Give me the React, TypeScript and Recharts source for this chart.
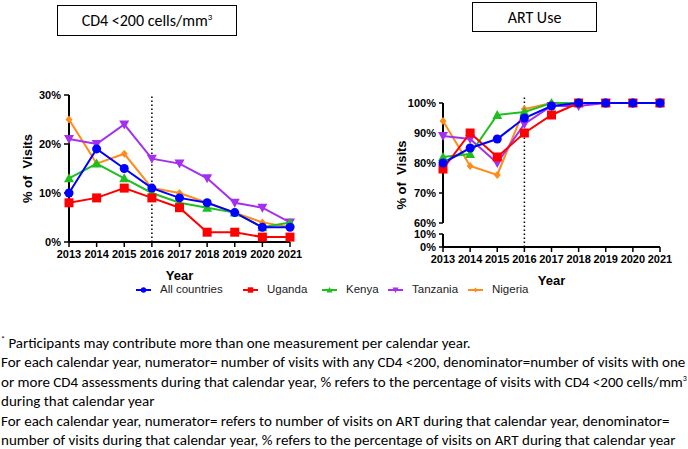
import React from "react";
import { LineChart, Line, XAxis, YAxis, ReferenceLine, Label } from "recharts";

const YEARS = [2013, 2014, 2015, 2016, 2017, 2018, 2019, 2020, 2021];

// CD4 <200 cells/mm3, % of visits
const CD4_ALL = [10, 19, 15, 11, 9, 8, 6, 3, 3];
const CD4_UGANDA = [8, 9, 11, 9, 7, 2, 2, 1, 1];
const CD4_KENYA = [13, 16, 13, 10, 8, 7, 6, 3, 4];
const CD4_TANZANIA = [21, 20, 24, 17, 16, 13, 8, 7, 4];
const CD4_NIGERIA = [25, 16, 18, 11, 10, 8, 6, 4, 3];

// ART use, % of visits
const ART_ALL = [80, 85, 88, 95, 99, 100, 100, 100, 100];
const ART_UGANDA = [78, 90, 82, 90, 96, 100, 100, 100, 100];
const ART_KENYA = [82, 83, 96, 97, 100, 100, 100, 100, 100];
const ART_TANZANIA = [89, 88, 80, 93, 99, 99, 100, 100, 100];
const ART_NIGERIA = [94, 79, 76, 98, 100, 100, 100, 100, 100];

const CD4_TICKS = [0, 10, 20, 30];
const ART_TICKS_TOP = [60, 70, 80, 90, 100];
const ART_TICKS_LOW = [0, 10];

type Shape = "circle" | "square" | "up" | "down" | "diamond";

const SERIES: { key: string; name: string; color: string; shape: Shape }[] = [
  { key: "all", name: "All countries", color: "#0000ff", shape: "circle" },
  { key: "uganda", name: "Uganda", color: "#ff0000", shape: "square" },
  { key: "kenya", name: "Kenya", color: "#1fbf1f", shape: "up" },
  { key: "tanzania", name: "Tanzania", color: "#a52ff0", shape: "down" },
  { key: "nigeria", name: "Nigeria", color: "#ff8c1a", shape: "diamond" },
];

const cd4Data = YEARS.map((year, i) => ({
  year,
  all: CD4_ALL[i],
  uganda: CD4_UGANDA[i],
  kenya: CD4_KENYA[i],
  tanzania: CD4_TANZANIA[i],
  nigeria: CD4_NIGERIA[i],
}));

const artData = YEARS.map((year, i) => ({
  year,
  all: ART_ALL[i],
  uganda: ART_UGANDA[i],
  kenya: ART_KENYA[i],
  tanzania: ART_TANZANIA[i],
  nigeria: ART_NIGERIA[i],
}));

const AXIS_FONT = "'Liberation Sans', Arial, sans-serif";
const NOTE_FONT = "Carlito, Lato, sans-serif";

const tickStyle = { fontSize: 11, fontWeight: 700, fill: "#000", fontFamily: AXIS_FONT };
const axisLine = { stroke: "#000", strokeWidth: 2 };
const tickLine = { stroke: "#000", strokeWidth: 1.5 };

// legend item left edges (icon), matched to the reference layout
const LEGEND_LEFT = [136, 243, 322, 388, 468];

function marker(shape: Shape, color: string, cx: number, cy: number, s = 1) {
  if (shape === "circle") return <circle cx={cx} cy={cy} r={4.5 * s} fill={color} />;
  if (shape === "square")
    return <rect x={cx - 4.5 * s} y={cy - 4.5 * s} width={9 * s} height={9 * s} fill={color} />;
  if (shape === "up")
    return <polygon points={`${cx},${cy - 5 * s} ${cx + 5 * s},${cy + 4 * s} ${cx - 5 * s},${cy + 4 * s}`} fill={color} />;
  if (shape === "down")
    return <polygon points={`${cx},${cy + 5 * s} ${cx + 5 * s},${cy - 4 * s} ${cx - 5 * s},${cy - 4 * s}`} fill={color} />;
  return <polygon points={`${cx},${cy - 4 * s} ${cx + 3.5 * s},${cy} ${cx},${cy + 4 * s} ${cx - 3.5 * s},${cy}`} fill={color} />;
}

const makeDot = (shape: Shape, color: string) => (props: any) => {
  const { cx, cy, index } = props;
  if (cx == null || cy == null) return <g key={index} />;
  return <g key={index}>{marker(shape, color, cx, cy)}</g>;
};

// rotated y-axis title, centred on the axis box with an optional shift
const yTitle = (shift: number) => (props: any) => {
  const vb = props.viewBox || {};
  const x = vb.x + 8;
  const y = vb.y + vb.height / 2 + shift;
  return (
    <text
      x={x}
      y={y}
      dy="0.35em"
      transform={`rotate(-90 ${x} ${y})`}
      textAnchor="middle"
      style={{ fontSize: 13, fontWeight: 700, fill: "#000", fontFamily: AXIS_FONT, whiteSpace: "pre" }}
    >
      {"% of  Visits"}
    </text>
  );
};

const yearLabel = (
  <Label
    value="Year"
    position="insideBottom"
    offset={0}
    style={{ fontSize: 13, fontWeight: 700, fill: "#000", fontFamily: AXIS_FONT }}
  />
);

// drawn last-to-first so "All countries" sits on top
const lines = [...SERIES].reverse().map((s) => (
  <Line
    key={s.key}
    dataKey={s.key}
    name={s.name}
    stroke={s.color}
    strokeWidth={2}
    dot={makeDot(s.shape, s.color)}
    activeDot={false}
    isAnimationActive={false}
  />
));

const dotted = { stroke: "#000", strokeWidth: 1.5, strokeDasharray: "1.5 2.5" };
const supStyle: React.CSSProperties = { fontSize: 9, lineHeight: 0, position: "relative", top: -6, verticalAlign: "baseline" };

export default function App() {
  return (
    <div style={{ position: "absolute", left: 0, top: 0, width: 688, height: 449, background: "#fff", overflow: "hidden" }}>
      {/* Titles */}
      <div
        style={{
          position: "absolute", left: 57, top: 5, width: 178, height: 29,
          border: "1.5px solid #000", display: "flex", alignItems: "center", justifyContent: "center",
          fontFamily: NOTE_FONT, fontSize: 16, color: "#000",
        }}
      >
        <span>CD4 &lt;200 cells/mm<span style={supStyle}>3</span></span>
      </div>
      <div
        style={{
          position: "absolute", left: 472, top: 2, width: 123, height: 28,
          border: "1.5px solid #000", display: "flex", alignItems: "center", justifyContent: "center",
          fontFamily: NOTE_FONT, fontSize: 16, color: "#000",
        }}
      >
        ART Use
      </div>

      {/* CD4 chart */}
      <div style={{ position: "absolute", left: 0, top: 80 }}>
        <LineChart width={320} height={210} data={cd4Data} margin={{ top: 15, right: 30, left: 19, bottom: 10 }}>
          <XAxis
            dataKey="year" type="number" domain={[2013, 2021]} ticks={YEARS} interval={0}
            tick={tickStyle} axisLine={axisLine} tickLine={tickLine} tickSize={5} tickMargin={3} height={38}
          >
            {yearLabel}
          </XAxis>
          <YAxis
            domain={[0, 30]} ticks={CD4_TICKS} interval={0} tickFormatter={(v) => `${v}%`}
            tick={tickStyle} axisLine={axisLine} tickLine={tickLine} tickSize={5} tickMargin={3} width={50}
          >
            <Label content={yTitle(0)} />
          </YAxis>
          <ReferenceLine x={2016} {...dotted} />
          {lines}
        </LineChart>
      </div>

      {/* ART chart, upper segment */}
      <div style={{ position: "absolute", left: 380, top: 88 }}>
        <LineChart width={300} height={145} data={artData} margin={{ top: 15, right: 20, left: 13, bottom: 10 }}>
          <XAxis dataKey="year" type="number" domain={[2013, 2021]} hide />
          <YAxis
            domain={[60, 100]} ticks={ART_TICKS_TOP} interval={0} tickFormatter={(v) => `${v}%`}
            tick={tickStyle} axisLine={axisLine} tickLine={tickLine} tickSize={4} tickMargin={3} width={50}
          >
            <Label content={yTitle(12)} />
          </YAxis>
          <ReferenceLine
            segment={[{ x: 2016, y: 60 }, { x: 2016, y: 102 }]}
            ifOverflow="visible"
            {...dotted}
          />
          {lines}
        </LineChart>
      </div>

      {/* ART chart, lower segment of the broken axis (series clipped away) */}
      <div style={{ position: "absolute", left: 380, top: 224 }}>
        <LineChart width={300} height={69} data={artData} margin={{ top: 10, right: 20, left: 13, bottom: 8 }}>
          <XAxis
            dataKey="year" type="number" domain={[2013, 2021]} ticks={YEARS} interval={0}
            tick={tickStyle} axisLine={axisLine} tickLine={tickLine} tickSize={5} tickMargin={3} height={38}
          >
            {yearLabel}
          </XAxis>
          <YAxis
            domain={[0, 10]} allowDataOverflow ticks={ART_TICKS_LOW} interval={0} tickFormatter={(v) => `${v}%`}
            tick={tickStyle} axisLine={axisLine} tickLine={tickLine} tickSize={4} tickMargin={3} width={50}
          />
          <ReferenceLine
            segment={[{ x: 2016, y: 0 }, { x: 2016, y: 18 }]}
            ifOverflow="visible"
            {...dotted}
          />
          {lines}
        </LineChart>
      </div>

      {/* Legend */}
      {SERIES.map((s, i) => (
        <div
          key={s.key}
          style={{
            position: "absolute", left: LEGEND_LEFT[i], top: 283, display: "flex", alignItems: "center",
            fontFamily: AXIS_FONT, fontSize: 11.5, lineHeight: "13px", color: "#222", whiteSpace: "nowrap",
          }}
        >
          <svg width={15} height={12} style={{ marginRight: 9 }}>
            <line x1={0} y1={6} x2={15} y2={6} stroke={s.color} strokeWidth={2} />
            {marker(s.shape, s.color, 7.5, 6, 0.6)}
          </svg>
          <span>{s.name}</span>
        </div>
      ))}

      {/* Notes */}
      <div
        style={{
          position: "absolute", left: 1, top: 333.5, fontFamily: NOTE_FONT, fontSize: 15,
          lineHeight: "19.5px", color: "#000", whiteSpace: "nowrap",
        }}
      >
        <div><span style={{ ...supStyle, fontSize: 8 }}>*</span> Participants may contribute more than one measurement per calendar year.</div>
        <div>For each calendar year, numerator= number of visits with any CD4 &lt;200, denominator=number of visits with one</div>
        <div>
          or more CD4 assessments during that calendar year, % refers to the percentage of visits with CD4 &lt;200 cells/mm
          <span style={{ ...supStyle, fontSize: 8 }}>3</span>
        </div>
        <div>during that calendar year</div>
        <div>For each calendar year, numerator= refers to number of visits on ART during that calendar year, denominator=</div>
        <div>number of visits during that calendar year, % refers to the percentage of visits on ART during that calendar year</div>
      </div>
    </div>
  );
}
